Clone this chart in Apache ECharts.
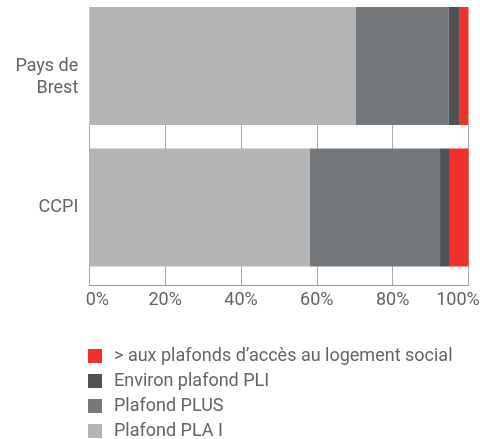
<!DOCTYPE html>
<html>
<head>
<meta charset="utf-8">
<script src="https://cdn.jsdelivr.net/npm/echarts@6/dist/echarts.min.js"></script>
<style>
  html, body { margin: 0; padding: 0; background: #fff; }
  #chart { width: 480px; height: 439px; }
</style>
</head>
<body>
<div id="chart"></div>
<script>
// categories (top to bottom)
const categories = ['Pays de\nBrest', 'CCPI'];

// shares in %
const plaI = [70.3, 58.2];
const plus = [24.5, 34.3];
const pli = [2.9, 2.6];
const abovePlafond = [2.3, 4.9];

const xTicks = [0, 20, 40, 60, 80, 100];

const seriesNames = {
    plaI: 'Plafond PLA I',
    plus: 'Plafond PLUS',
    pli: 'Environ plafond PLI',
    above: '> aux plafonds d\u2019accès au logement social'
};

const textColor = '#636466';

const chart = echarts.init(document.getElementById('chart'));

const option = {
    animation: false,
    textStyle: { fontFamily: 'Roboto' },
    grid: {
        left: 89.3,
        right: 11.5,
        top: -4.75,
        height: 283,
        outerBoundsMode: 'none'
    },
    legend: {
        orient: 'vertical',
        left: 88,
        top: 345,
        height: 120,
        padding: 0,
        itemWidth: 14,
        itemHeight: 14,
        itemGap: 3,
        icon: 'rect',
        data: [seriesNames.above, seriesNames.pli, seriesNames.plus, seriesNames.plaI],
        textStyle: {
            fontSize: 18,
            color: textColor,
            padding: [0, 0, 0, 7],
            lineHeight: 22
        }
    },
    xAxis: {
        type: 'value',
        min: xTicks[0],
        max: xTicks[xTicks.length - 1],
        interval: 20,
        offset: 7,
        axisLine: { show: true, lineStyle: { color: '#939598', width: 1 } },
        axisTick: {
            show: true,
            inside: true,
            length: 160,
            lineStyle: { color: '#a7a9ac', width: 1 }
        },
        splitLine: { show: false },
        axisLabel: {
            fontSize: 18,
            color: textColor,
            margin: 6,
            // end labels are nudged so they stay inside the page
            formatter: function (v) {
                if (v === xTicks[0]) return '{min|' + v + '%}';
                if (v === xTicks[xTicks.length - 1]) return '{max|' + v + '%}';
                return v + '%';
            },
            rich: {
                min: { fontSize: 18, color: textColor, padding: [0, 0, 0, 16] },
                max: { fontSize: 18, color: textColor, padding: [0, 21, 0, 0] }
            }
        }
    },
    yAxis: {
        type: 'category',
        inverse: true,
        data: categories,
        axisLine: { show: false },
        axisTick: { show: false },
        axisLabel: {
            fontSize: 18,
            lineHeight: 22,
            color: textColor,
            margin: 11,
            // first line of a wrapped label sits on the bar centre
            formatter: function (v) {
                return v.indexOf('\n') >= 0 ? ' \n' + v : v;
            }
        }
    },
    series: [
        {
            name: seriesNames.plaI,
            type: 'bar',
            stack: 'total',
            data: plaI,
            barCategoryGap: '16.6%',
            itemStyle: { color: '#b3b5b6' }
        },
        {
            name: seriesNames.plus,
            type: 'bar',
            stack: 'total',
            data: plus,
            itemStyle: { color: '#75787b' }
        },
        {
            name: seriesNames.pli,
            type: 'bar',
            stack: 'total',
            data: pli,
            itemStyle: { color: '#505355' }
        },
        {
            name: seriesNames.above,
            type: 'bar',
            stack: 'total',
            data: abovePlafond,
            itemStyle: { color: '#ee3129' }
        }
    ]
};

chart.setOption(option);
window.addEventListener('resize', function () { chart.resize(); });
</script>
</body>
</html>
